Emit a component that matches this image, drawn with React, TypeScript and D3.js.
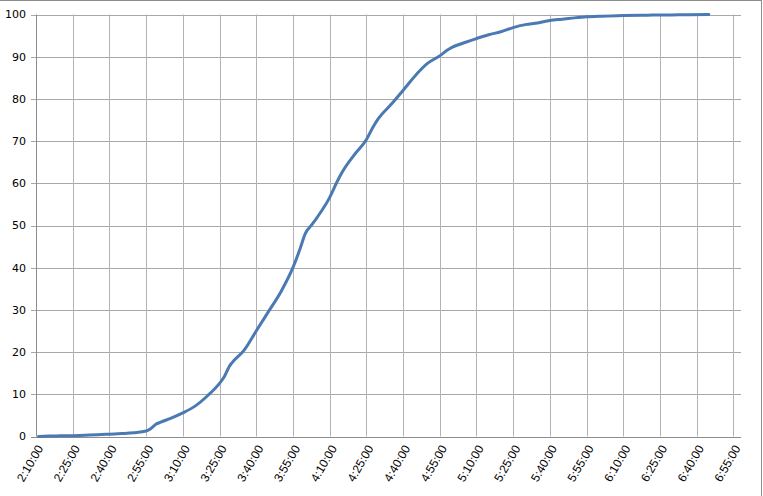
import React, { useEffect, useRef } from "react";
import * as d3 from "d3";

// minutes since 0:00 and cumulative percentage
const times: number[] = [131, 135, 140, 145, 150, 155, 160, 165, 170, 175, 177, 179, 181, 185, 190, 195, 200, 205, 207, 209, 210, 215, 220, 225, 230, 235, 238, 240, 243, 245, 250, 253, 255, 260, 265, 268, 270, 275, 280, 285, 290, 295, 298, 300, 305, 310, 315, 320, 325, 330, 335, 340, 345, 350, 355, 360, 370, 380, 390, 395, 405];
const values: number[] = [0, 0.1, 0.15, 0.2, 0.3, 0.4, 0.55, 0.7, 0.9, 1.3, 1.9, 2.9, 3.4, 4.3, 5.6, 7.2, 9.6, 12.6, 14.2, 16.6, 17.4, 20.4, 25, 29.6, 34.2, 40, 44.6, 48, 50.4, 52, 56.6, 60.3, 62.5, 66.7, 70.3, 73.6, 75.4, 78.6, 82, 85.5, 88.4, 90.2, 91.5, 92.2, 93.3, 94.3, 95.2, 95.9, 96.9, 97.6, 98.0, 98.6, 98.9, 99.2, 99.45, 99.6, 99.75, 99.85, 99.9, 99.95, 100];
const xTicks: number[] = d3.range(130, 416, 15);
const yTicks: number[] = d3.range(0, 101, 10);

const fmtTime = (m: number) => {
  const h = Math.floor(m / 60);
  const mm = m % 60;
  return `${h}:${String(mm).padStart(2, "0")}:00`;
};

export default function App() {
  const ref = useRef<SVGSVGElement>(null);
  useEffect(() => {
    const svg = d3.select(ref.current);
    svg.selectAll("*").remove();
    const W = 763, H = 496;
    const x = d3.scaleLinear().domain([130, 415]).range([36, 733.3]);
    const y = d3.scaleLinear().domain([0, 100]).range([436.5, 14.5]);

    svg.append("rect").attr("width", W).attr("height", H).attr("fill", "#fff");
    // outer border
    svg.append("line").attr("x1", 0).attr("x2", 762).attr("y1", 0.5).attr("y2", 0.5).attr("stroke", "#8c8c8c");
    svg.append("line").attr("x1", 761.5).attr("x2", 761.5).attr("y1", 0).attr("y2", H).attr("stroke", "#8c8c8c");

    // horizontal gridlines
    svg.append("g").selectAll("line").data(yTicks).join("line")
      .attr("x1", 31).attr("x2", 741)
      .attr("y1", d => Math.round(y(d)) + 0.5).attr("y2", d => Math.round(y(d)) + 0.5)
      .attr("stroke", d => d === 0 ? "#8c8c8c" : "#a8a8a8").attr("stroke-width", 1);
    // vertical gridlines
    svg.append("g").selectAll("line").data(xTicks).join("line")
      .attr("x1", d => Math.round(x(d)) + 0.5).attr("x2", d => Math.round(x(d)) + 0.5)
      .attr("y1", y(100)).attr("y2", y(0))
      .attr("stroke", d => d === 130 ? "#8c8c8c" : "#b4b4b4").attr("stroke-width", 1);

    // y labels
    svg.append("g").selectAll("text").data(yTicks).join("text")
      .attr("x", 26).attr("y", d => y(d)).attr("dy", "0.35em")
      .attr("text-anchor", "end")
      .attr("font-family", "DejaVu Sans").attr("font-size", 11).attr("fill", "#000")
      .text(d => String(d));

    // x labels
    svg.append("g").selectAll("text").data(xTicks).join("text")
      .attr("transform", d => `translate(${x(d) + 4},${446}) rotate(-60)`)
      .attr("text-anchor", "end").attr("dy", "0.35em")
      .attr("font-family", "Liberation Sans").attr("font-size", 12).attr("fill", "#000")
      .text(d => fmtTime(d));

    const line = d3.line<number>()
      .x((_, i) => x(times[i]))
      .y(d => y(d))
      .curve(d3.curveMonotoneX);
    svg.append("path").datum(values).attr("d", line)
      .attr("fill", "none").attr("stroke", "#4a79b3").attr("stroke-width", 3)
      .attr("stroke-linejoin", "round").attr("stroke-linecap", "round");
  }, []);
  return <svg ref={ref} width={763} height={496} style={{ position: "absolute", left: 0, top: 0 }} />;
}
